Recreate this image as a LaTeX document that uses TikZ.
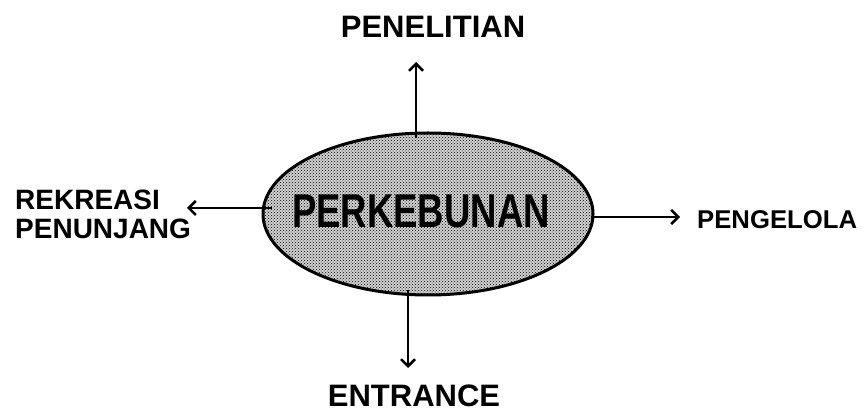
\documentclass[tikz,border=0pt]{standalone}
\usepackage{fontspec}
\setmainfont{Liberation Sans}
\usetikzlibrary{shapes.geometric,patterns,arrows.meta}
\begin{document}
\begin{tikzpicture}[x=1pt,y=1pt,
  blobstyle/.style={ellipse,draw=black,line width=3pt,minimum width=330pt,minimum height=162pt,inner sep=0pt,
    preaction={fill=black!18},pattern=crosshatch dots,pattern color=black},
  arr/.style={line width=2.5pt,-{Straight Barb[length=7pt,width=14pt,line width=2.5pt]}},
  lbl/.style={inner sep=0pt,font=\fontsize{31}{34}\selectfont\bfseries}]
\useasboundingbox (0,0) rectangle (867,412);
\node[blobstyle] (blob) at (428,198) {};
\node[inner sep=0pt,font=\fontsize{36.5}{40}\selectfont\bfseries] (main) at (421,201) {\scalebox{1}[1.3]{PERKEBUNAN}};
\node[lbl] (pen) at (433,385) {PENELITIAN};
\node[lbl] (ent) at (414,16) {ENTRANCE};
\node[lbl,anchor=west,align=left,font=\fontsize{28}{29}\selectfont\bfseries] (rek) at (15,198) {REKREASI\\PENUNJANG};
\node[lbl,anchor=west,font=\fontsize{25.7}{28}\selectfont\bfseries] (peng) at (697,192) {PENGELOLA};
\coordinate (tipU) at (416,350);
\coordinate (tipD) at (408,44);
\coordinate (tipL) at (187,204);
\coordinate (tipR) at (680,195);
\draw[arr] (blob.north -| tipU) ++(0,-7) -- (tipU);
\draw[arr] (blob.south -| tipD) ++(0,6) -- (tipD);
\draw[arr] (blob.west |- tipL) ++(10,0) -- (tipL);
\draw[arr] (blob.east |- tipR) ++(-4,0) -- (tipR);
\end{tikzpicture}
\end{document}
